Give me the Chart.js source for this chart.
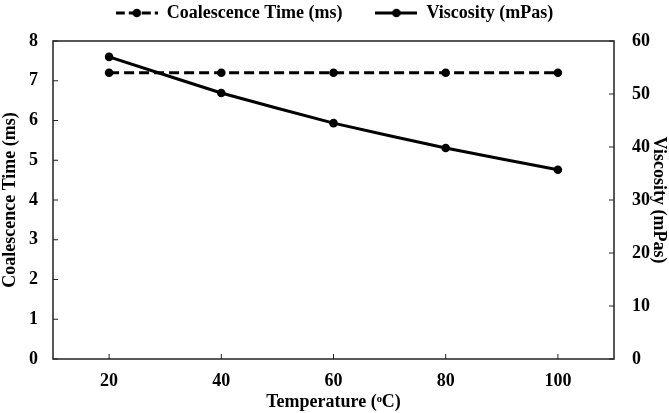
<!DOCTYPE html>
<html>
<head>
<meta charset="utf-8">
<script src="https://cdn.jsdelivr.net/npm/chart.js@4/dist/chart.umd.min.js"></script>
<style>
  html, body { margin: 0; padding: 0; background: #fff; }
  #wrap { width: 669px; height: 413px; }
</style>
</head>
<body>
<div id="wrap"><canvas id="chart"></canvas></div>
<script>
const temperatures = [20, 40, 60, 80, 100];
const coalescenceTime = [7.2, 7.2, 7.2, 7.2, 7.2];
const viscosity = [57.0, 50.2, 44.5, 39.8, 35.7];
const xTicks = [20, 40, 60, 80, 100];

const FONT = "'Liberation Serif', 'Times New Roman', serif";
const LEGEND_GAP = 33;

// small canvas used as the legend marker: line with a dot in the middle
function legendIcon(dash) {
    const c = document.createElement('canvas');
    c.width = 42; c.height = 12;
    const ctx = c.getContext('2d');
    ctx.strokeStyle = '#000';
    ctx.lineWidth = 3;
    ctx.setLineDash(dash);
    ctx.beginPath();
    ctx.moveTo(0, 6);
    ctx.lineTo(42, 6);
    ctx.stroke();
    ctx.fillStyle = '#000';
    ctx.beginPath();
    ctx.arc(21, 6, 4.3, 0, Math.PI * 2);
    ctx.fill();
    return c;
}

// keep legend block a fixed height so the plot starts where it should
const legendHeight = {
    id: 'legendHeight',
    beforeInit(chart) {
        const lg = chart.legend;
        const fit = lg.fit;
        lg.fit = function () {
            fit.call(this);
            this.height = 41 + (LEGEND_GAP - 4);
        };
    }
};

// box round the plot and inward tick marks
const frame = {
    id: 'frame',
    afterDraw(chart) {
        const {ctx, chartArea: a, scales} = chart;
        ctx.save();
        ctx.strokeStyle = '#222';
        ctx.lineWidth = 1.5;
        ctx.strokeRect(a.left, a.top, a.right - a.left, a.bottom - a.top);
        ctx.lineWidth = 1;
        ctx.beginPath();
        scales.x.ticks.forEach(t => {
            const px = scales.x.getPixelForValue(t.value);
            ctx.moveTo(px, a.bottom);
            ctx.lineTo(px, a.bottom - 5);
        });
        scales.y.ticks.forEach(t => {
            const py = scales.y.getPixelForValue(t.value);
            ctx.moveTo(a.left, py);
            ctx.lineTo(a.left + 5, py);
        });
        scales.y2.ticks.forEach(t => {
            const py = scales.y2.getPixelForValue(t.value);
            ctx.moveTo(a.right, py);
            ctx.lineTo(a.right - 5, py);
        });
        ctx.stroke();
        ctx.restore();
    }
};

new Chart(document.getElementById('chart'), {
    type: 'line',
    data: {
        datasets: [
            {
                label: 'Coalescence Time (ms)',
                data: temperatures.map((t, i) => ({x: t, y: coalescenceTime[i]})),
                yAxisID: 'y',
                borderColor: '#000',
                backgroundColor: '#000',
                borderWidth: 3,
                borderDash: [10, 5],
                pointRadius: 4.3,
                pointBorderWidth: 0,
                pointHoverRadius: 4.3,
                tension: 0
            },
            {
                label: 'Viscosity (mPas)',
                data: temperatures.map((t, i) => ({x: t, y: viscosity[i]})),
                yAxisID: 'y2',
                borderColor: '#000',
                backgroundColor: '#000',
                borderWidth: 3,
                pointRadius: 4.3,
                pointBorderWidth: 0,
                pointHoverRadius: 4.3,
                tension: 0.1
            }
        ]
    },
    options: {
        responsive: true,
        maintainAspectRatio: false,
        animation: false,
        layout: {padding: {top: -(LEGEND_GAP - 4), left: 0, right: 0, bottom: 0}},
        plugins: {
            tooltip: {enabled: false},
            legend: {
                position: 'top',
                labels: {
                    font: {family: FONT, size: 18, weight: 'bold'},
                    color: '#000',
                    padding: LEGEND_GAP,
                    usePointStyle: true,
                    pointStyleWidth: 42,
                    boxHeight: 12,
                    generateLabels(chart) {
                        return chart.data.datasets.map((ds, i) => ({
                            text: ds.label,
                            pointStyle: legendIcon(ds.borderDash ? [9, 4] : []),
                            fillStyle: '#000',
                            strokeStyle: '#000',
                            lineWidth: 0,
                            hidden: false,
                            datasetIndex: i,
                            fontColor: '#000'
                        }));
                    }
                }
            }
        },
        scales: {
            x: {
                type: 'linear',
                min: 10,
                max: 110,
                afterBuildTicks(scale) { scale.ticks = xTicks.map(v => ({value: v})); },
                afterFit(scale) { scale.height = 54; },
                grid: {display: false},
                border: {display: false},
                ticks: {
                    font: {family: FONT, size: 18, weight: 'bold'},
                    color: '#000',
                    padding: 4
                },
                title: {
                    display: true,
                    text: 'Temperature (ᵒC)',
                    font: {family: FONT, size: 18, weight: 'bold'},
                    color: '#000',
                    padding: {top: 0, bottom: 0}
                }
            },
            y: {
                position: 'left',
                min: 0,
                max: 8,
                afterFit(scale) { scale.width = 53; },
                ticks: {
                    stepSize: 1,
                    font: {family: FONT, size: 18, weight: 'bold'},
                    color: '#000',
                    padding: 7
                },
                grid: {display: false},
                border: {display: false},
                title: {
                    display: true,
                    text: 'Coalescence Time (ms)',
                    font: {family: FONT, size: 18, weight: 'bold'},
                    color: '#000',
                    padding: {top: 0, bottom: 0}
                }
            },
            y2: {
                position: 'right',
                min: 0,
                max: 60,
                afterFit(scale) { scale.width = 55; },
                ticks: {
                    stepSize: 10,
                    font: {family: FONT, size: 18, weight: 'bold'},
                    color: '#000',
                    padding: 10
                },
                grid: {display: false},
                border: {display: false},
                title: {
                    display: true,
                    text: 'Viscosity (mPas)',
                    font: {family: FONT, size: 18, weight: 'bold'},
                    color: '#000',
                    padding: {top: 0, bottom: 0}
                }
            }
        }
    },
    plugins: [legendHeight, frame]
});
</script>
</body>
</html>
